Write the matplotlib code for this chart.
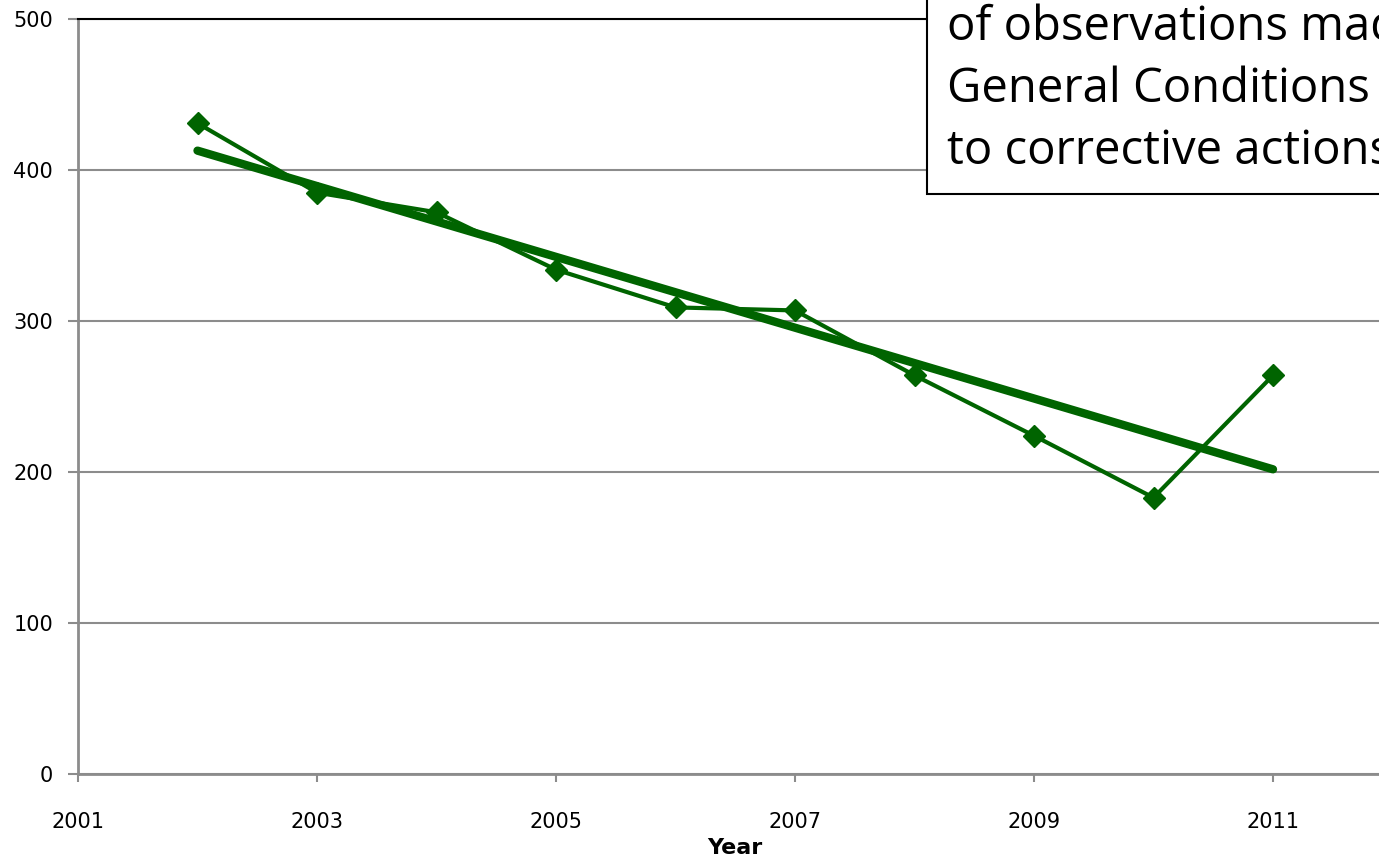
import numpy as np
import matplotlib
matplotlib.use("Agg")
import matplotlib.pyplot as plt
from matplotlib.patches import Rectangle

# Yearly counts
years = [2002, 2003, 2004, 2005, 2006, 2007, 2008, 2009, 2010, 2011]
counts = [431, 385, 372, 334, 309, 307, 264, 224, 183, 264]
x_ticks = [2001, 2003, 2005, 2007, 2009, 2011]
y_ticks = [0, 100, 200, 300, 400, 500]
note_lines = ["of observations made",
              "General Conditions led",
              "to corrective actions"]

green = "#006400"
grey = "#8c8c8c"

W, H = 1379, 856
fig = plt.figure(figsize=(W / 100, H / 100), dpi=100)
ax = fig.add_axes([78 / W, 1 - 774 / H, 1 - 78 / W, (774 - 19) / H])

# Observed series
ax.plot(years, counts, color=green, lw=3, marker="D", ms=11,
        solid_capstyle="round", zorder=3)

# Linear trend across the observed years
coef = np.polyfit(years, counts, 1)
tx = np.array([years[0], years[-1]])
ax.plot(tx, np.polyval(coef, tx), color=green, lw=6,
        solid_capstyle="round", zorder=2)

ax.set_xlim(2001, 2001 + (W - 78) / 119.5)
ax.set_ylim(0, 500)
ax.set_xticks(x_ticks)
ax.set_yticks(y_ticks)
ax.tick_params(axis="both", colors=grey, labelcolor="black", labelsize=15)
ax.tick_params(axis="y", length=7, width=1.5, pad=11)
ax.tick_params(axis="x", length=6, width=1.5, pad=21)
ax.yaxis.grid(True, color=grey, lw=1.5)
ax.set_axisbelow(True)

for s in ["left", "bottom"]:
    ax.spines[s].set_color(grey)
    ax.spines[s].set_linewidth(2)
ax.spines["right"].set_visible(False)
ax.spines["top"].set_color("black")
ax.spines["top"].set_linewidth(1.5)

ax.set_xlabel("Year", fontsize=16, fontweight="bold")
ax.xaxis.set_label_coords((735 - 78) / (W - 78), -0.085)

# Annotation box in the upper right
x0 = 927 / W
y0 = 1 - 194 / H
fig.patches.append(Rectangle((x0, y0), 0.5, 0.5, transform=fig.transFigure,
                             facecolor="white", edgecolor="black", lw=1.5,
                             zorder=5))
for i, line in enumerate(note_lines):
    fig.text(947 / W, 1 - (27 + 62 * i) / H, line, fontsize=34,
             family="Open Sans", va="center", ha="left", zorder=6)

fig.savefig("out.png", dpi=100)
